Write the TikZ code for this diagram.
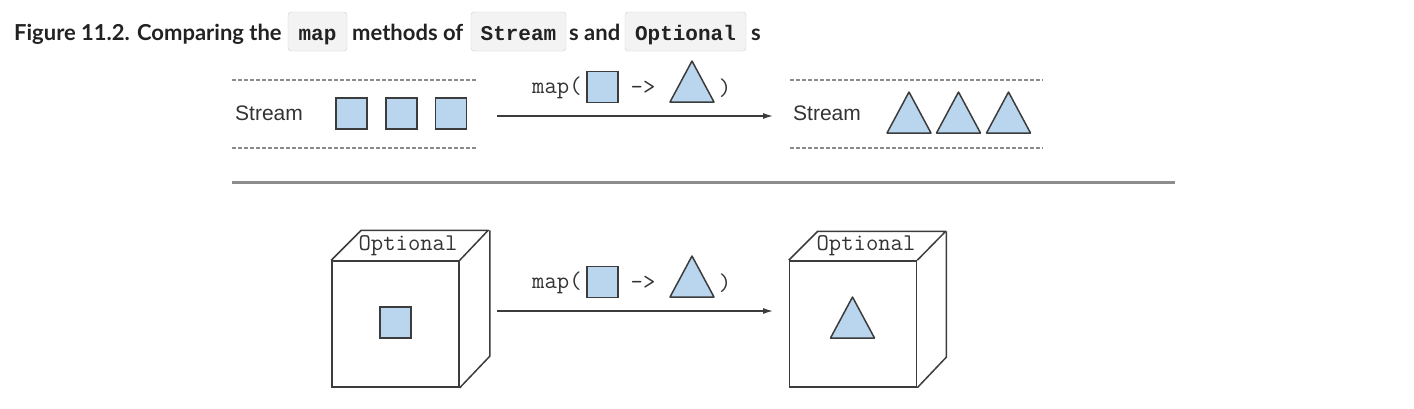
\documentclass[tikz,border=0pt]{standalone}
\usepackage{fontspec}
\setmainfont{Liberation Sans}
\newfontfamily\titlefont{Lato}
\newfontfamily\codefont{Liberation Mono}
\usetikzlibrary{arrows.meta,positioning}

\definecolor{titleink}{HTML}{222222}
\definecolor{codefill}{HTML}{F3F3F3}
\definecolor{codeedge}{HTML}{CFCFCF}
\definecolor{shapeink}{HTML}{3C3C3C}
\definecolor{shapefill}{HTML}{BAD6EE}
\definecolor{textink}{HTML}{333333}
\definecolor{dashink}{HTML}{8A8A8A}
\definecolor{ruleink}{HTML}{8C8C8C}

\tikzset{
  titletext/.style={anchor=base west, inner sep=0pt, text=titleink,
    font=\titlefont\bfseries\fontsize{22}{26}\selectfont},
  codebox/.style={anchor=base, draw=codeedge, fill=codefill, rounded corners=3pt,
    inner xsep=0pt, inner ysep=0pt, text height=28pt, text depth=11pt, text=titleink,
    font=\codefont\bfseries\fontsize{21}{25}\selectfont},
  label/.style={inner sep=0pt, text=textink, font=\fontsize{21}{25}\selectfont},
  codelabel/.style={inner sep=0pt, text=textink, font=\ttfamily\fontsize{24}{28}\selectfont},
  square/.style={draw=shapeink, fill=shapefill, line width=1.5pt, minimum size=31pt, inner sep=0pt},
  face/.style={draw=shapeink, line width=1.5pt, minimum width=127pt, minimum height=126pt, inner sep=0pt},
  edge/.style={draw=shapeink, line width=1.5pt, line join=round},
  dashline/.style={draw=dashink, line width=1.2pt, dash pattern=on 4pt off 2pt},
  maparrow/.style={draw=shapeink, line width=1.3pt, -{Latex[length=10pt,width=6pt]}},
  tri/.pic={\draw[edge, fill=shapefill] (-22,0) -- (22,0) -- (0,-41) -- cycle;}
}

\begin{document}
\begin{tikzpicture}[x=1pt,y=-1pt]

\path [use as bounding box] (0,0) rectangle (1414,408);

% TITLE
\node[titletext] (t1) at (14,40) {Figure 11.2. Comparing the};
\node[codebox, minimum width=59pt] (cmap) at (317.5,40) {map};
\node[titletext] (t2) at (352,40) {methods of};
\node[codebox, minimum width=95pt] (cstream) at (518.5,40) {Stream};
\node[titletext] (t3) at (569,40) {s and};
\node[codebox, minimum width=121pt] (coptional) at (685.5,40) {Optional};
\node[titletext] (t4) at (751,40) {s};

% STREAMS
\draw[dashline] (232,80) -- (477,80);
\draw[dashline] (232,148) -- (477,148);
\node[label, anchor=west] (sleft) at (235,113) {Stream};
\node[square] (sq1) at (351.5,113.5) {};
\node[square] (sq2) at (401.5,113.5) {};
\node[square] (sq3) at (451,113.5) {};

\draw[dashline] (790,80) -- (1043,80);
\draw[dashline] (790,148) -- (1043,148);
\node[label, anchor=west] (sright) at (793,113) {Stream};
\path (909,133) pic {tri};
\path (958.5,133) pic {tri};
\path (1008.5,133) pic {tri};

\coordinate (s1) at (497,116);
\coordinate (s2) at (773,116);
\draw[maparrow] (s1) -- (s2);
\node[codelabel, anchor=west] (smap) at (532,88) {map(};
\node[square] (smapsq) at (602.5,87) {};
\node[codelabel] (sto) at (643,88) {->};
\path (692,102) pic {tri};
\node[codelabel] (sclose) at (725,88) {)};

% RULE
\draw[ruleink, line width=3pt] (232,182) -- (1175,182);

% OPTIONALS
\node[face] (opt1) at (395.5,324) {};
\draw[edge] (opt1.north west) -- ++(30,-30) -- ++(127,0) -- (opt1.north east);
\draw[edge] (opt1.north east) ++(30,-30) -- ++(0,126) -- (opt1.south east);
\node[codelabel] (optl1) at (408,246) {Optional};
\node[square] (optsq) at (395.5,322.5) {};

\node[face] (opt2) at (853,324) {};
\draw[edge] (opt2.north west) -- ++(29,-29) -- ++(128,0) -- (opt2.north east);
\draw[edge] (opt2.north east) ++(29,-29) -- ++(0,126) -- (opt2.south east);
\node[codelabel] (optl2) at (866,246) {Optional};
\path (852.5,338) pic {tri};

\coordinate (o1) at (497,311);
\coordinate (o2) at (773,311);
\draw[maparrow] (o1) -- (o2);
\node[codelabel, anchor=west] (omap) at (532,283) {map(};
\node[square] (omapsq) at (602.5,282) {};
\node[codelabel] (oto) at (643,283) {->};
\path (692,297) pic {tri};
\node[codelabel] (oclose) at (725,283) {)};

\end{tikzpicture}
\end{document}
